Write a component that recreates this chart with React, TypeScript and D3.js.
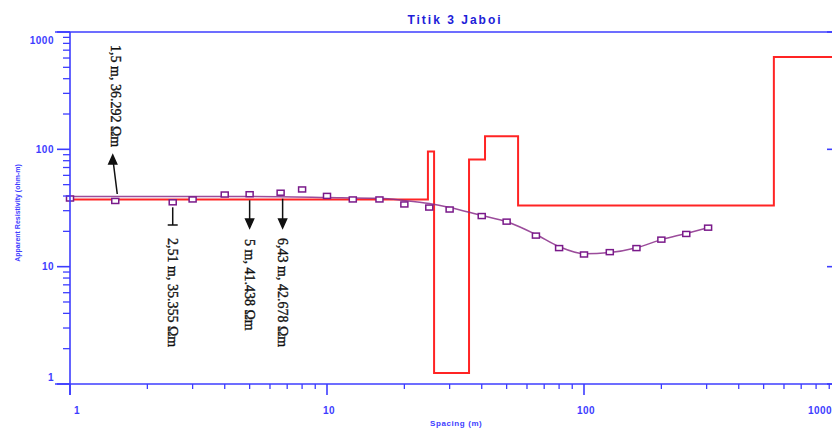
import React from "react";
import * as d3 from "d3";

const W = 832;
const H = 430;

const titleText = "Titik 3 Jaboi";
const xLabelText = "Spacing (m)";
const yLabelText = "Apparent Resistivity (ohm-m)";

const xTickValues = [1, 10, 100, 1000];
const xTickLabels = ["1", "10", "100", "1000"];
const yTickValues = [1, 10, 100, 1000];
const yTickLabels = ["1", "10", "100", "1000"];

// observed apparent resistivity
const obsSpacing = [1, 1.5, 2.51, 3, 4, 5, 6.6, 8, 10, 12.6, 16, 20, 25, 30, 40, 50, 65, 80, 100, 126, 160, 200, 250, 304];
const obsRho = [38.1, 36.292, 35.355, 37.4, 41.2, 41.438, 42.678, 45.5, 40.1, 37.4, 37.4, 33.9, 31.9, 30.7, 27.0, 24.2, 18.4, 14.4, 12.7, 13.3, 14.4, 17.0, 19.0, 21.5];

// calculated (model) curve
const modelSpacing = [1, 2, 5, 10, 16, 20, 25, 30, 40, 50, 65, 80, 100, 126, 160, 200, 250, 304];
const modelRho = [39.6, 39.6, 39.6, 38.9, 38.2, 36.6, 34.5, 32.0, 27.3, 24.2, 18.8, 14.8, 12.9, 13.2, 14.5, 17.0, 19.2, 21.5];

// layered model
const layerRho = [37.4, 96, 1.24, 82, 129, 33.2, 611];
const layerDepth = [24.7, 26.1, 35.7, 41.2, 55.4, 548];

// annotations
const annSpacing = [1.5, 2.51, 5, 6.6];
const annRho = [36.292, 35.355, 41.438, 42.678];
const annLabel = ["1,5 m, 36.292 Ωm", "2,51 m, 35.355 Ωm", "5 m, 41.438 Ωm", "6,43 m, 42.678 Ωm"];

const BLUE = "#3d3dff";
const RED = "#ff2424";
const PURPLE = "#8a2d8a";

export default function App() {
  const x = d3.scaleLog().domain([1, 1000]).range([70, 841]);
  const y = d3.scaleLog().domain([1, 1000]).range([384, 32]);

  const minor = (lo: number, hi: number) => {
    const out: number[] = [];
    for (let d = lo; d < hi; d *= 10) for (let k = 2; k <= 9; k++) out.push(d * k);
    return out;
  };
  const minorVals = minor(1, 1000);

  const layerPts: [number, number][] = [[1, layerRho[0]]];
  layerDepth.forEach((d, i) => {
    layerPts.push([d, layerRho[i]]);
    layerPts.push([d, layerRho[i + 1]]);
  });
  layerPts.push([1000, layerRho[layerRho.length - 1]]);
  const line = d3.line<[number, number]>().x((d) => x(d[0])).y((d) => y(d[1]));

  const modelPts = modelSpacing.map((s, i) => [s, modelRho[i]] as [number, number]);
  const curve = d3
    .line<[number, number]>()
    .x((d) => x(d[0]))
    .y((d) => y(d[1]))
    .curve(d3.curveMonotoneX);

  const axisFont = "Arial, 'Liberation Sans', sans-serif";
  const serif = "'Liberation Serif', 'Times New Roman', serif";

  const arrowDown = (cx: number, tipY: number) =>
    `M${cx},${tipY} L${cx - 4},${tipY - 9} L${cx + 4},${tipY - 9} Z`;

  return (
    <svg
      width={W}
      height={H}
      style={{ position: "absolute", left: 0, top: 0, background: "#fff" }}
      viewBox={`0 0 ${W} ${H}`}
    >
      <rect width={W} height={H} fill="#fff" />
      {/* title */}
      <text
        x={455}
        y={24}
        textAnchor="middle"
        fontFamily={axisFont}
        fontWeight="bold"
        fontSize={12}
        letterSpacing={2}
        fill="#2020d8"
      >
        {titleText}
      </text>

      {/* layered model */}
      <path d={line(layerPts) || ""} fill="none" stroke={RED} strokeWidth={2} />

      {/* model curve */}
      <path d={curve(modelPts) || ""} fill="none" stroke={PURPLE} strokeWidth={1.5} opacity={0.85} />

      {/* observed points */}
      {obsSpacing.map((s, i) => (
        <rect
          key={i}
          x={x(s) - 3.5}
          y={y(obsRho[i]) - 2.5}
          width={7}
          height={5}
          fill="#fff"
          stroke="#7a1a8a"
          strokeWidth={1.5}
        />
      ))}

      {/* axes */}
      <g stroke={BLUE} strokeWidth={1.6} fill="none">
        <line x1={55} x2={W} y1={y(1000)} y2={y(1000)} />
        <line x1={55} x2={W} y1={y(1)} y2={y(1)} />
        <line x1={x(1)} x2={x(1)} y1={y(1000)} y2={395} />
        <line x1={x(1000)} x2={x(1000)} y1={y(1000)} y2={y(1)} />
        {yTickValues.map((v) => (
          <g key={"ym" + v}>
            <line x1={57} x2={x(1)} y1={y(v)} y2={y(v)} />
            <line x1={x(1000) - 14} x2={x(1000)} y1={y(v)} y2={y(v)} />
          </g>
        ))}
        {minorVals.map((v) => (
          <g key={"yn" + v}>
            <line x1={x(1) - 7} x2={x(1)} y1={y(v)} y2={y(v)} strokeWidth={1.3} />
            <line x1={x(1000) - 7} x2={x(1000)} y1={y(v)} y2={y(v)} strokeWidth={1.3} />
          </g>
        ))}
        {xTickValues.map((v) => (
          <line key={"xm" + v} x1={x(v)} x2={x(v)} y1={y(1)} y2={395} />
        ))}
        {minorVals.map((v) => (
          <line key={"xn" + v} x1={x(v)} x2={x(v)} y1={y(1)} y2={y(1) + 5} strokeWidth={1.3} />
        ))}
      </g>

      {/* tick labels */}
      <g fontFamily={axisFont} fontWeight="bold" fontSize={10} fill={BLUE} letterSpacing={0.5}>
        {yTickValues.map((v, i) => {
          const off = i === 0 ? -7 : i === yTickValues.length - 1 ? 8 : 0;
          return (
            <text key={"yl" + v} x={54} y={y(v) + off} textAnchor="end" dominantBaseline="central">
              {yTickLabels[i]}
            </text>
          );
        })}
        {xTickValues.map((v, i) => {
          const off = i === 0 ? 7 : i === xTickValues.length - 1 ? -21 : 2;
          return (
            <text key={"xl" + v} x={x(v) + off} y={410} textAnchor="middle" dominantBaseline="central">
              {xTickLabels[i]}
            </text>
          );
        })}
      </g>

      {/* axis titles */}
      <text
        x={430}
        y={426}
        fontFamily={axisFont}
        fontWeight="bold"
        fontSize={8}
        letterSpacing={0.6}
        fill={BLUE}
      >
        {xLabelText}
      </text>
      <text
        transform={`translate(17,${213}) rotate(-90)`}
        textAnchor="middle"
        dominantBaseline="central"
        fontFamily={axisFont}
        fontSize={7}
        fontWeight="bold"
        fill={BLUE}
      >
        {yLabelText}
      </text>

      {/* annotations */}
      <g stroke="#111" strokeWidth={1.5} fill="#111">
        {/* 1.5 m: arrow up */}
        <line x1={x(annSpacing[0]) + 2} y1={y(annRho[0]) - 7} x2={x(annSpacing[0]) - 2} y2={162} />
        <path
          d={`M${x(annSpacing[0]) - 2.5},${155} L${x(annSpacing[0]) - 6.5},${164} L${x(annSpacing[0]) + 1.5},${164} Z`}
        />
        {/* 2.51 m: T bar */}
        <line x1={x(annSpacing[1])} y1={y(annRho[1]) + 5} x2={x(annSpacing[1])} y2={225} />
        <line x1={x(annSpacing[1]) - 5} y1={225} x2={x(annSpacing[1]) + 5} y2={225} />
        {/* 5 m */}
        <line x1={x(annSpacing[2])} y1={y(annRho[2]) + 6} x2={x(annSpacing[2])} y2={220} />
        <path d={arrowDown(x(annSpacing[2]), 228)} />
        {/* 6.43 m */}
        <line x1={x(annSpacing[3]) + 2} y1={y(annRho[3]) + 6} x2={x(annSpacing[3]) + 2} y2={220} />
        <path d={arrowDown(x(annSpacing[3]) + 2, 228)} />
      </g>
      <g fontFamily={serif} fontSize={14} fill="#111" stroke="#111" strokeWidth={0.35}>
        <text transform={`translate(${x(annSpacing[0])},45) rotate(90)`} dominantBaseline="central">
          {annLabel[0]}
        </text>
        <text transform={`translate(${x(annSpacing[1])},238) rotate(90)`} dominantBaseline="central">
          {annLabel[1]}
        </text>
        <text transform={`translate(${x(annSpacing[2])},239) rotate(90)`} dominantBaseline="central">
          {annLabel[2]}
        </text>
        <text transform={`translate(${x(annSpacing[3]) + 2},238) rotate(90)`} dominantBaseline="central">
          {annLabel[3]}
        </text>
      </g>
    </svg>
  );
}
